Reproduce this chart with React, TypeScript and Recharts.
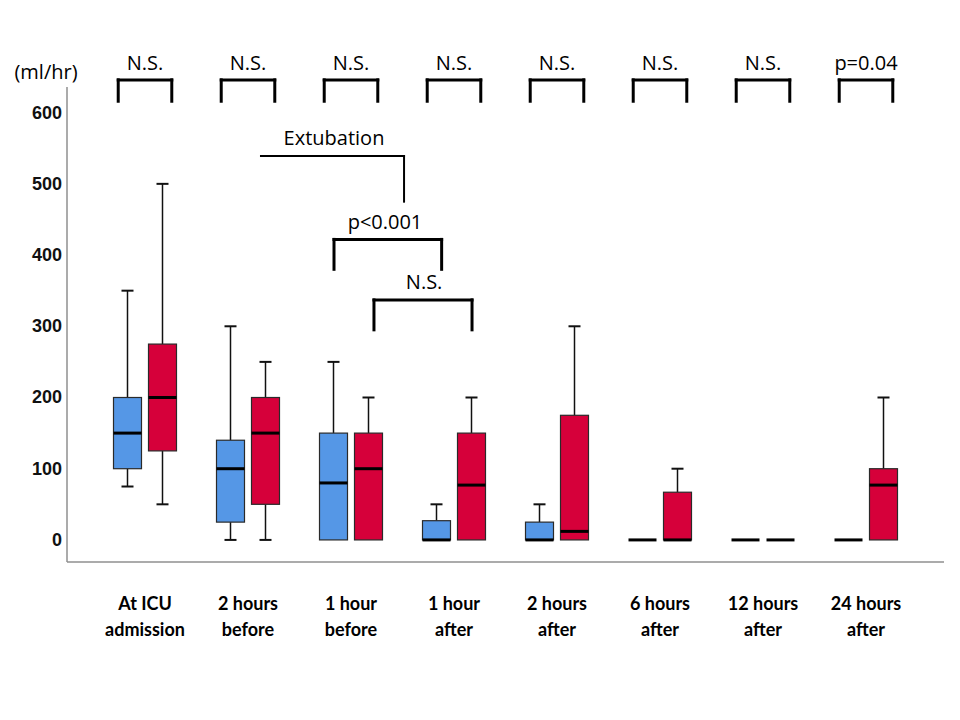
import React from 'react';
import { ComposedChart, Bar, XAxis, YAxis, ReferenceLine, ReferenceDot } from 'recharts';

// ---- categories & tick labels ----
const categories = [
  'At ICU admission',
  '2 hours before',
  '1 hour before',
  '1 hour after',
  '2 hours after',
  '6 hours after',
  '12 hours after',
  '24 hours after',
];
const tickLine1 = ['At ICU', '2 hours', '1 hour', '1 hour', '2 hours', '6 hours', '12 hours', '24 hours'];
const tickLine2 = ['admission', 'before', 'before', 'after', 'after', 'after', 'after', 'after'];
const yTicks = [0, 100, 200, 300, 400, 500, 600];

// ---- blue group (box-plot statistics, ml/hr) ----
const blueMin = [75, 0, 0, 0, 0, 0, 0, 0];
const blueQ1 = [100, 25, 0, 0, 0, 0, 0, 0];
const blueMed = [150, 100, 80, 0, 0, 0, 0, 0];
const blueQ3 = [200, 140, 150, 27, 25, 0, 0, 0];
const blueMax = [350, 300, 250, 50, 50, 0, 0, 0];

// ---- red group ----
const redMin = [50, 0, 0, 0, 0, 0, 0, 0];
const redQ1 = [125, 50, 0, 0, 0, 0, 0, 0];
const redMed = [200, 150, 100, 77, 12, 0, 0, 77];
const redQ3 = [275, 200, 150, 150, 175, 67, 0, 100];
const redMax = [500, 250, 200, 200, 300, 100, 0, 200];

// ---- comparison labels above each category ----
const groupTests = ['N.S.', 'N.S.', 'N.S.', 'N.S.', 'N.S.', 'N.S.', 'N.S.', 'p=0.04'];

// ---- annotation geometry in data units (x = category index, y = ml/hr) ----
const topBracketTop = 646;
const topBracketFoot = 616;
const topBracketHalf = 0.26;
const topTextY = 660;

const extLineY = 539;
const extLineX = [1.126, 2.515];
const extFootY = 475;
const extText = { x: 1.835, y: 554, label: 'Extubation' };

const pBracket = { x1: 1.835, x2: 2.88, top: 422, foot: 380, textX: 2.33, textY: 437, label: 'p<0.001' };
const nsBracket = { x1: 2.223, x2: 3.175, top: 337, foot: 295, textX: 2.71, textY: 352, label: 'N.S.' };

const BLUE = '#5597E6';
const RED = '#D6003A';

type Stats = { min: number; q1: number; med: number; q3: number; max: number };

const data = categories.map((category, i) => ({
  category,
  idx: i,
  blue: { min: blueMin[i], q1: blueQ1[i], med: blueMed[i], q3: blueQ3[i], max: blueMax[i] } as Stats,
  red: { min: redMin[i], q1: redQ1[i], med: redMed[i], q3: redQ3[i], max: redMax[i] } as Stats,
  blueRange: [blueMin[i], blueMax[i]],
  redRange: [redMin[i], redMax[i]],
}));

const makeBox = (key: 'blue' | 'red', fill: string) => (props: any) => {
  const { x, y, width, height, payload } = props;
  const s: Stats = payload[key];
  const top = Math.min(y, y + height);
  const bottom = Math.max(y, y + height);
  const span = s.max - s.min;
  const py = (v: number) => (span === 0 ? bottom : bottom - ((bottom - top) * (v - s.min)) / span);
  const cx = x + width / 2;
  const cap = 6;
  return (
    <g>
      {s.max > s.q3 && (
        <>
          <line x1={cx} x2={cx} y1={py(s.max)} y2={py(s.q3)} stroke="#111" strokeWidth={1.5} />
          <line x1={cx - cap} x2={cx + cap} y1={py(s.max)} y2={py(s.max)} stroke="#111" strokeWidth={2} />
        </>
      )}
      {s.q1 > s.min && (
        <>
          <line x1={cx} x2={cx} y1={py(s.q1)} y2={py(s.min)} stroke="#111" strokeWidth={1.5} />
          <line x1={cx - cap} x2={cx + cap} y1={py(s.min)} y2={py(s.min)} stroke="#111" strokeWidth={2} />
        </>
      )}
      {s.q3 > s.q1 && (
        <rect x={x} y={py(s.q3)} width={width} height={py(s.q1) - py(s.q3)} fill={fill} stroke="#2a2a2a" strokeWidth={1.2} />
      )}
      <line x1={x} x2={x + width} y1={py(s.med)} y2={py(s.med)} stroke="#000" strokeWidth={3} />
    </g>
  );
};

const XTick = (props: any) => {
  const { x, y, payload } = props;
  const i = categories.indexOf(payload.value);
  return (
    <text x={x} y={y} textAnchor="middle" fontFamily="Lato, 'Open Sans', sans-serif" fontWeight={700} fontSize={18} fill="#000">
      <tspan x={x} dy={48}>{tickLine1[i]}</tspan>
      <tspan x={x} dy={26}>{tickLine2[i]}</tspan>
    </text>
  );
};

const YTick = (props: any) => {
  const { x, y, payload } = props;
  return (
    <text
      x={x}
      y={y}
      dy={6}
      textAnchor="end"
      style={{ fontFamily: "'Liberation Sans', Arial, sans-serif", fontWeight: 700, fontSize: '18px' }}
      fill="#111"
    >
      {payload.value}
    </text>
  );
};

const annoFont = "'Open Sans', 'Noto Sans', sans-serif";

const textShape = (label: string) => (p: any) => (
  <text x={p.cx} y={p.cy} textAnchor="middle" fontFamily={annoFont} fontSize={20} fill="#000">
    {label}
  </text>
);

const seg = (x1: number, y1: number, x2: number, y2: number, w: number, key: string) => (
  <ReferenceLine
    key={key}
    xAxisId="n"
    segment={[{ x: x1, y: y1 }, { x: x2, y: y2 }]}
    stroke="#000"
    strokeWidth={w}
    strokeLinecap="square"
    ifOverflow="visible"
  />
);

const bracket = (x1: number, x2: number, top: number, foot: number, w: number, key: string) => [
  seg(x1, top, x2, top, w, key + 'h'),
  seg(x1, top, x1, foot, w, key + 'l'),
  seg(x2, top, x2, foot, w, key + 'r'),
];

export default function App() {
  return (
    <div style={{ position: 'absolute', left: 0, top: 0, background: '#fff' }}>
      <ComposedChart
        width={960}
        height={720}
        data={data}
        margin={{ top: 87, right: 16, bottom: 98, left: 7 }}
        barSize={28}
        barGap={7}
      >
        <XAxis
          dataKey="category"
          interval={0}
          padding={{ left: 26.5, right: 26.5 }}
          tickLine={false}
          tickSize={0}
          tickMargin={0}
          height={60}
          axisLine={{ stroke: '#8f8f8f', strokeWidth: 1.5 }}
          tick={<XTick />}
        />
        <XAxis
          xAxisId="n"
          dataKey="idx"
          type="number"
          domain={[-0.5, 7.5]}
          allowDataOverflow
          padding={{ left: 26.5, right: 26.5 }}
          hide
          height={0}
        />
        <YAxis
          domain={[-31, 636]}
          ticks={yTicks}
          allowDataOverflow
          interval={0}
          tickLine={false}
          tickSize={0}
          tickMargin={5}
          width={60}
          axisLine={{ stroke: '#8f8f8f', strokeWidth: 1.5 }}
          tick={<YTick />}
          label={{
            content: (p: any) => {
              const vb = p.viewBox || { x: 7, y: 87, width: 60 };
              return (
                <text x={vb.x + vb.width - 21} y={vb.y - 8} textAnchor="middle" fontFamily={annoFont} fontSize={20} fill="#000">
                  (ml/hr)
                </text>
              );
            },
          }}
        />
        <Bar dataKey="blueRange" fill={BLUE} isAnimationActive={false} shape={makeBox('blue', BLUE)} />
        <Bar dataKey="redRange" fill={RED} isAnimationActive={false} shape={makeBox('red', RED)} />

        {groupTests.flatMap((t, i) =>
          bracket(i - topBracketHalf, i + topBracketHalf, topBracketTop, topBracketFoot, 3, 'top' + i)
        )}
        {groupTests.map((t, i) => (
          <ReferenceDot key={'tt' + i} xAxisId="n" x={i} y={topTextY} r={0} ifOverflow="visible" shape={textShape(t)} />
        ))}

        {seg(extLineX[0], extLineY, extLineX[1], extLineY, 2, 'exth')}
        {seg(extLineX[1], extLineY, extLineX[1], extFootY, 2, 'extv')}
        <ReferenceDot xAxisId="n" x={extText.x} y={extText.y} r={0} ifOverflow="visible" shape={textShape(extText.label)} />

        {bracket(pBracket.x1, pBracket.x2, pBracket.top, pBracket.foot, 3, 'pb')}
        <ReferenceDot xAxisId="n" x={pBracket.textX} y={pBracket.textY} r={0} ifOverflow="visible" shape={textShape(pBracket.label)} />

        {bracket(nsBracket.x1, nsBracket.x2, nsBracket.top, nsBracket.foot, 3, 'nb')}
        <ReferenceDot xAxisId="n" x={nsBracket.textX} y={nsBracket.textY} r={0} ifOverflow="visible" shape={textShape(nsBracket.label)} />
      </ComposedChart>
    </div>
  );
}
